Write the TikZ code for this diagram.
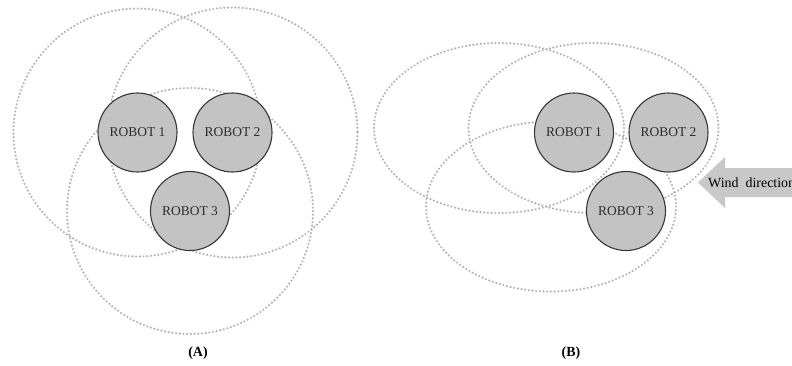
\documentclass[tikz,border=0pt]{standalone}
\usepackage{fontspec}
\setmainfont{Liberation Serif}
\usepackage{xcolor}
\usepackage{tikz}
\usetikzlibrary{positioning,backgrounds}
\definecolor{robotgray}{RGB}{195,195,195}
\definecolor{edgegray}{RGB}{55,55,55}
\definecolor{dotgray}{RGB}{180,180,180}
\definecolor{windgray}{RGB}{200,200,200}
\definecolor{textgray}{RGB}{45,45,45}

\tikzset{
  robotnode/.style={circle, draw=edgegray, line width=1.1bp, fill=robotgray,
    minimum size=79bp, inner sep=0pt, text=textgray,
    font=\fontsize{13.5}{15}\selectfont},
  rangeline/.style={draw=dotgray, line width=2.4bp, line cap=round,
    dash pattern=on 0bp off 3.7bp},
  panellabel/.style={font=\fontsize{14}{16}\selectfont\bfseries}
}

\begin{document}
\begin{tikzpicture}[x=1bp, y=-1bp]
\useasboundingbox (0,0) rectangle (792,365);
\clip (0,0) rectangle (792,365);

% (A) circular ranges
\node[robotnode] (r1a) at (137.5,132.5) {ROBOT 1};
\node[robotnode] (r2a) at (232.5,132.5) {ROBOT 2};
\node[robotnode] (r3a) at (190,211) {ROBOT 3};
\begin{scope}[on background layer]
\draw[rangeline] (r1a.center) circle[radius=124];
\draw[rangeline] (r2a.center) circle[radius=125];
\draw[rangeline] (r3a.center) circle[radius=123];
\end{scope}
\node[panellabel] (labA) at (198,353) {(A)};

% (B) ranges stretched by the wind
\node[robotnode] (r1b) at (574,132.5) {ROBOT 1};
\node[robotnode] (r2b) at (668.5,132.5) {ROBOT 2};
\node[robotnode] (r3b) at (626,211) {ROBOT 3};
\begin{scope}[on background layer]
\foreach \r in {r1b,r2b,r3b}
  \draw[rangeline] ([shift={(-75,-4.5)}]\r.center) ellipse[x radius=125, y radius=85];
\end{scope}
\node[panellabel] (labB) at (571,353) {(B)};

% wind arrow
\coordinate (tip) at (698,182.5);
\fill[windgray] (tip) -- ++(27,-25.5) -- ++(0,11) -- ++(80,0) -- ++(0,29)
  -- ++(-80,0) -- ++(0,11) -- cycle;
\node[anchor=west, font=\fontsize{14}{16}\selectfont, inner sep=0pt] (wind)
  at ([xshift=10bp]tip) {Wind\ \ direction};
\end{tikzpicture}
\end{document}
